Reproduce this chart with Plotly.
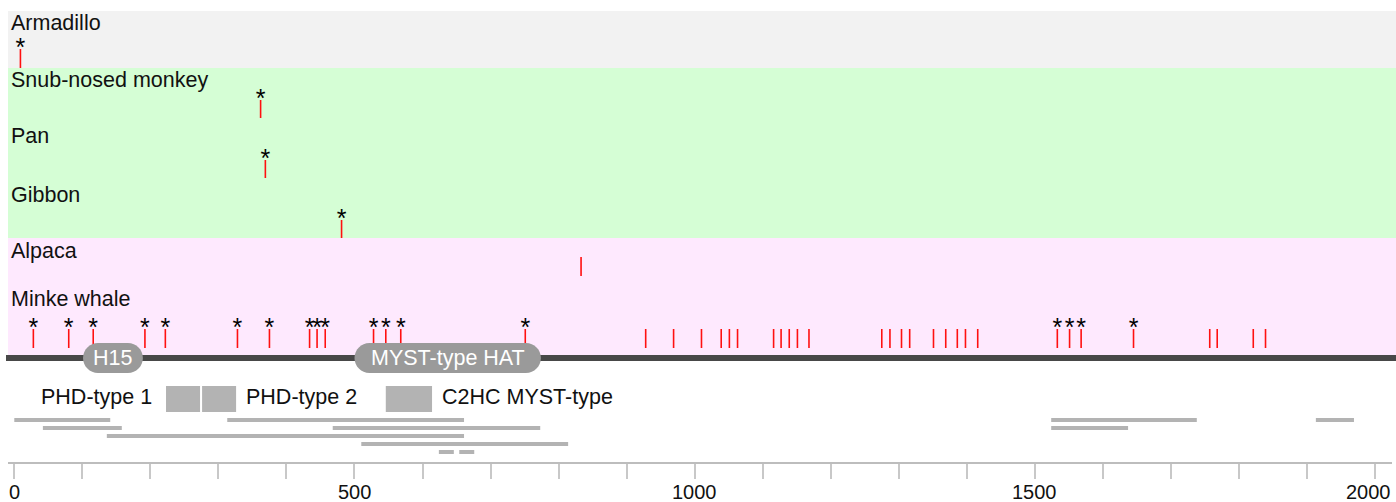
import plotly.graph_objects as go

# ---- data -----------------------------------------------------------------
species = ["Armadillo", "Snub-nosed monkey", "Pan", "Gibbon", "Alpaca", "Minke whale"]

# positions (aa) of substitution sites per species; starred sites flagged separately
sites_starred = {
    "Armadillo": [9],
    "Snub-nosed monkey": [362],
    "Pan": [369],
    "Gibbon": [481],
    "Alpaca": [],
    "Minke whale": [28, 80, 116, 192, 222, 328, 375, 434, 445, 457, 528, 546, 568,
                    751, 1533, 1551, 1568, 1645],
}
sites_plain = {
    "Armadillo": [],
    "Snub-nosed monkey": [],
    "Pan": [],
    "Gibbon": [],
    "Alpaca": [833],
    "Minke whale": [928, 969, 1010, 1039, 1051, 1063, 1116, 1127, 1139, 1151, 1168,
                    1275, 1287, 1304, 1316, 1351, 1369, 1386, 1398, 1416,
                    1757, 1768, 1821, 1839],
}

# domains drawn on the protein backbone
line_domains = [("H15", 101, 189), ("MYST-type HAT", 500, 774)]
# zinc-finger boxes under the backbone
box_domains = [("PHD-type 1", 223, 273), ("PHD-type 2", 276, 326), ("C2HC MYST-type", 546, 614)]
# region bars, one list per lane
region_lanes = [
    [(0, 141), (313, 661), (1524, 1738), (1913, 1969)],
    [(42, 158), (468, 773), (1524, 1637)],
    [(136, 661)],
    [(510, 814)],
    [(624, 646), (654, 676)],
]

tick_vals = [0, 500, 1000, 1500, 2000]
tick_text = ["0", "500", "1000", "1500", "2000"]

# ---- layout geometry (y in pixel units, top = 0) ---------------------------
W, H = 1396, 502
ML, MR, MB = 8, 4, 40
X0, X1 = -9.26, 2024.9
k = (W - ML - MR) / (X1 - X0)          # pixels per residue
PLOT_H = H - MB

label_y = {"Armadillo": 23, "Snub-nosed monkey": 80, "Pan": 136, "Gibbon": 195,
           "Alpaca": 251, "Minke whale": 299}
tick_span = {"Armadillo": (49, 68), "Snub-nosed monkey": (100, 118), "Pan": (160, 178),
             "Gibbon": (220, 238), "Alpaca": (257, 276), "Minke whale": (329, 348)}
bands = [(11, 68, "#f2f2f2"), (68, 238, "#d5fed5"), (238, 358, "#fee9fe")]

BACKBONE_Y = 358
BOX_TOP, BOX_BOT = 386, 412
LANE_Y0, LANE_STEP = 420, 8
LABEL_SIZE = 21.5
TICKLABEL_Y = 492

fig = go.Figure()
shapes = []
annotations = []

right_paper = (W - ML) / (W - ML - MR)
for y0, y1, col in bands:
    shapes.append(dict(type="rect", xref="paper", yref="y", x0=0, x1=right_paper,
                       y0=y0, y1=y1, fillcolor=col, line_width=0, layer="below"))

# protein backbone
shapes.append(dict(type="line", xref="paper", yref="y", x0=-2 / (W - ML - MR), x1=right_paper,
                   y0=BACKBONE_Y, y1=BACKBONE_Y, line=dict(color="#484848", width=6),
                   layer="below"))


def pill_path(x0, x1, yc, r_px):
    rx = r_px / k
    ry = r_px
    c = 0.5523
    top, bot = yc - ry, yc + ry
    return (f"M{x0 + rx},{top} L{x1 - rx},{top} "
            f"C{x1 - rx + c * rx},{top} {x1},{yc - c * ry} {x1},{yc} "
            f"C{x1},{yc + c * ry} {x1 - rx + c * rx},{bot} {x1 - rx},{bot} "
            f"L{x0 + rx},{bot} "
            f"C{x0 + rx - c * rx},{bot} {x0},{yc + c * ry} {x0},{yc} "
            f"C{x0},{yc - c * ry} {x0 + rx - c * rx},{top} {x0 + rx},{top} Z")


for name, a, b in line_domains:
    shapes.append(dict(type="path", xref="x", yref="y", path=pill_path(a, b, BACKBONE_Y, 15),
                       fillcolor="#9a9a9a", line_width=0, layer="above"))
    annotations.append(dict(x=(a + b) / 2, y=BACKBONE_Y, xref="x", yref="y", text=name,
                            showarrow=False, xanchor="center", yanchor="middle",
                            font=dict(size=LABEL_SIZE, color="white")))

for i, (name, a, b) in enumerate(box_domains):
    shapes.append(dict(type="rect", xref="x", yref="y", x0=a, x1=b, y0=BOX_TOP, y1=BOX_BOT,
                       fillcolor="#b3b3b3", line_width=0, layer="above"))
    if i == 0:
        annotations.append(dict(x=a, y=(BOX_TOP + BOX_BOT) / 2 - 2, xref="x", yref="y",
                                text=name, showarrow=False, xanchor="right", yanchor="middle",
                                xshift=-12, font=dict(size=LABEL_SIZE, color="#111")))
    else:
        annotations.append(dict(x=b, y=(BOX_TOP + BOX_BOT) / 2 - 2, xref="x", yref="y",
                                text=name, showarrow=False, xanchor="left", yanchor="middle",
                                xshift=8, font=dict(size=LABEL_SIZE, color="#111")))

for lane, regions in enumerate(region_lanes):
    yl = LANE_Y0 + lane * LANE_STEP
    for a, b in regions:
        shapes.append(dict(type="line", xref="x", yref="y", x0=a, x1=b, y0=yl, y1=yl,
                           line=dict(color="#b3b3b3", width=4), layer="above"))

# species labels, site ticks and stars
for sp in species:
    annotations.append(dict(x=1 / (W - ML - MR), y=label_y[sp], xref="paper", yref="y",
                            text=sp, showarrow=False, xanchor="left", yanchor="middle",
                            font=dict(size=LABEL_SIZE, color="#111")))
    top, bot = tick_span[sp]
    pos = sorted(sites_starred[sp] + sites_plain[sp])
    xs, ys = [], []
    for p in pos:
        xs += [p, p, None]
        ys += [top, bot, None]
    fig.add_trace(go.Scatter(x=xs, y=ys, mode="lines", line=dict(color="#ff1010", width=1.6),
                             hoverinfo="skip", showlegend=False))
    if sites_starred[sp]:
        fig.add_trace(go.Scatter(x=sites_starred[sp], y=[top + 1] * len(sites_starred[sp]),
                                 mode="text", text=["*"] * len(sites_starred[sp]),
                                 textposition="middle center",
                                 textfont=dict(size=25, color="black"),
                                 hoverinfo="skip", showlegend=False))

# axis numbers, placed just under the tick marks (last one kept inside the page)
for i, (v, t) in enumerate(zip(tick_vals, tick_text)):
    last = i == len(tick_vals) - 1
    annotations.append(dict(x=v, y=(PLOT_H - TICKLABEL_Y) / PLOT_H, xref="x", yref="paper",
                            text=t, showarrow=False, yanchor="middle",
                            xanchor="right" if last else "center",
                            xshift=18 if last else 0,
                            font=dict(size=20, color="#111")))

fig.update_layout(
    width=W, height=H,
    margin=dict(l=ML, r=MR, t=0, b=MB, pad=0, autoexpand=False),
    paper_bgcolor="white", plot_bgcolor="white",
    font=dict(family="Liberation Sans, Arial, sans-serif", size=20, color="#111"),
    shapes=shapes, annotations=annotations, showlegend=False,
    xaxis=dict(range=[X0, X1], tickvals=tick_vals, ticks="outside", ticklen=15,
               tickwidth=1.5, tickcolor="#c8c8c8", showline=True, linecolor="#bdbdbd",
               linewidth=2, showgrid=False, zeroline=False, automargin=False,
               showticklabels=False,
               minor=dict(dtick=100, tick0=0, ticks="outside", ticklen=15, tickwidth=1.5,
                          tickcolor="#c8c8c8", showgrid=False),
               fixedrange=True),
    yaxis=dict(range=[PLOT_H, 0], visible=False, fixedrange=True, automargin=False),
)

fig.write_html("out.html")
